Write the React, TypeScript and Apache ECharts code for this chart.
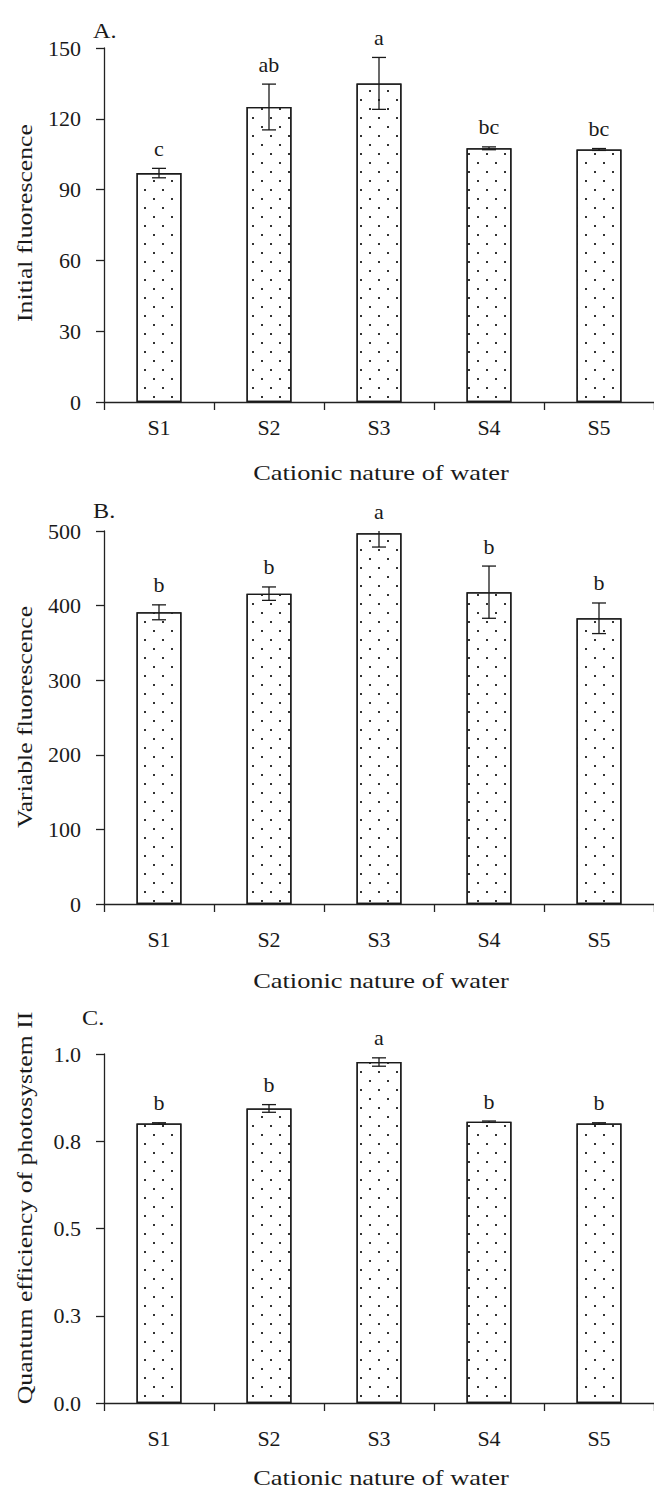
import React, { useEffect, useRef } from "react";
import * as echarts from "echarts";

// Treatments on the category axis
const categories = ["S1", "S2", "S3", "S4", "S5"];

// A. Initial fluorescence
const initialMeans = [97, 125, 135, 107.5, 107];
const initialErrors = [2, 9.7, 11, 0.6, 0.4];
const initialLetters = ["c", "ab", "a", "bc", "bc"];

// B. Variable fluorescence
const variableMeans = [391, 416, 497, 418, 383];
const variableErrors = [10, 9, 18.5, 35, 20.5];
const variableLetters = ["b", "b", "a", "b", "b"];

// C. Quantum efficiency of photosystem II
const quantumMeans = [0.801, 0.844, 0.977, 0.806, 0.801];
const quantumErrors = [0.002, 0.011, 0.012, 0.002, 0.002];
const quantumLetters = ["b", "b", "a", "b", "b"];

const xTitle = "Cationic nature of water";

const FONT = '"Liberation Serif", "Times New Roman", serif';
const INK = "#1a1a1a";
const LINE = { color: "#222", width: 1.3 };

// stippled fill for the bars
const DOTS = {
  symbol: "rect",
  symbolSize: 1,
  color: "#333",
  dashArrayX: [
    [2, 16],
    [0, 9, 2, 7],
  ],
  dashArrayY: [2, 7],
  rotation: 0,
};

type Panel = {
  tag: string;
  yTitle: string;
  means: number[];
  errors: number[];
  letters: string[];
  min: number;
  max: number;
  interval: number;
  decimals: number;
  top: number;
  height: number;
  labelMargin: number;
  yTitleY: number;
  xTitleY: number;
  tagX: number;
  tagY: number;
};

const panels: Panel[] = [
  {
    tag: "A.",
    yTitle: "Initial fluorescence",
    means: initialMeans,
    errors: initialErrors,
    letters: initialLetters,
    min: 0,
    max: 150,
    interval: 30,
    decimals: 0,
    top: 48,
    height: 354,
    labelMargin: 14,
    yTitleY: 223,
    xTitleY: 472,
    tagX: 93,
    tagY: 30,
  },
  {
    tag: "B.",
    yTitle: "Variable fluorescence",
    means: variableMeans,
    errors: variableErrors,
    letters: variableLetters,
    min: 0,
    max: 500,
    interval: 100,
    decimals: 0,
    top: 531,
    height: 373,
    labelMargin: 24,
    yTitleY: 717,
    xTitleY: 980,
    tagX: 93,
    tagY: 510,
  },
  {
    tag: "C.",
    yTitle: "Quantum efficiency of photosystem II",
    means: quantumMeans,
    errors: quantumErrors,
    letters: quantumLetters,
    min: 0,
    max: 1,
    interval: 0.25,
    decimals: 1,
    top: 1054,
    height: 349,
    labelMargin: 24,
    yTitleY: 1208,
    xTitleY: 1477,
    tagX: 82,
    tagY: 1017,
  },
];

const GRID_LEFT = 104;
const GRID_WIDTH = 556;

function errorSeries(p: Panel, idx: number) {
  return {
    type: "custom",
    xAxisIndex: idx,
    yAxisIndex: idx,
    z: 5,
    encode: { x: 0, y: 1 },
    data: p.means.map((m, i) => [i, m, p.errors[i]]),
    renderItem: (params: any, api: any) => {
      const i = api.value(0);
      const m = api.value(1);
      const e = api.value(2);
      const cs = params.coordSys;
      const hi = api.coord([i, m + e]);
      const lo = api.coord([i, m - e]);
      const x = hi[0];
      const yTop = Math.max(hi[1], cs.y);
      const half = 7;
      const style = { stroke: INK, lineWidth: 1.3, fill: null };
      const children: any[] = [
        { type: "line", shape: { x1: x, y1: yTop, x2: x, y2: lo[1] }, style },
        { type: "line", shape: { x1: x - half, y1: lo[1], x2: x + half, y2: lo[1] }, style },
      ];
      if (hi[1] >= cs.y) {
        children.push({
          type: "line",
          shape: { x1: x - half, y1: hi[1], x2: x + half, y2: hi[1] },
          style,
        });
      }
      children.push({
        type: "text",
        style: {
          text: p.letters[params.dataIndex],
          x,
          y: yTop - 9,
          align: "center",
          verticalAlign: "bottom",
          fontFamily: FONT,
          fontSize: 22,
          fill: INK,
        },
      });
      return { type: "group", children };
    },
  };
}

export default function App() {
  const ref = useRef<HTMLDivElement>(null);

  useEffect(() => {
    if (!ref.current) return;
    const chart = echarts.init(ref.current, null, { renderer: "svg" });

    const graphic: any[] = [];
    panels.forEach((p) => {
      graphic.push({
        type: "text",
        x: 25,
        y: p.yTitleY,
        rotation: Math.PI / 2,
        scaleX: 1.17,
        style: {
          text: p.yTitle,
          align: "center",
          verticalAlign: "middle",
          fontFamily: FONT,
          fontSize: 22,
          fill: INK,
        },
      });
      graphic.push({
        type: "text",
        x: GRID_LEFT + GRID_WIDTH / 2 - 1,
        y: p.xTitleY,
        scaleX: 1.2,
        style: {
          text: xTitle,
          align: "center",
          verticalAlign: "middle",
          fontFamily: FONT,
          fontSize: 22,
          fill: INK,
        },
      });
      graphic.push({
        type: "text",
        x: p.tagX,
        y: p.tagY,
        scaleX: 1.1,
        style: {
          text: p.tag,
          align: "left",
          verticalAlign: "middle",
          fontFamily: FONT,
          fontSize: 22,
          fill: INK,
        },
      });
    });

    chart.setOption({
      animation: false,
      backgroundColor: "#fff",
      grid: panels.map((p) => ({
        left: GRID_LEFT,
        top: p.top,
        width: GRID_WIDTH,
        height: p.height,
        containLabel: false,
      })),
      xAxis: panels.map((p, idx) => ({
        type: "category",
        gridIndex: idx,
        data: categories,
        boundaryGap: true,
        axisLine: { show: true, lineStyle: LINE },
        axisTick: { show: true, length: 8, interval: 0, lineStyle: LINE },
        axisLabel: {
          margin: p.labelMargin,
          fontSize: 22,
          fontFamily: FONT,
          color: INK,
          interval: 0,
        },
        splitLine: { show: false },
      })),
      yAxis: panels.map((p, idx) => ({
        type: "value",
        gridIndex: idx,
        min: p.min,
        max: p.max,
        interval: p.interval,
        axisLine: { show: true, lineStyle: LINE },
        axisTick: { show: true, length: 8, lineStyle: LINE },
        axisLabel: {
          margin: 23,
          fontSize: 22,
          fontFamily: FONT,
          color: INK,
          formatter: (v: number) => v.toFixed(p.decimals),
        },
        splitLine: { show: false },
      })),
      series: [
        ...panels.map((p, idx) => ({
          type: "bar",
          xAxisIndex: idx,
          yAxisIndex: idx,
          data: p.means,
          barWidth: 45,
          itemStyle: {
            color: "#fff",
            borderColor: INK,
            borderWidth: 1.3,
            decal: DOTS,
          },
        })),
        ...panels.map((p, idx) => errorSeries(p, idx)),
      ],
      graphic,
    });

    return () => chart.dispose();
  }, []);

  return (
    <div
      ref={ref}
      style={{ position: "absolute", left: 0, top: 0, width: 654, height: 1488, background: "#fff" }}
    />
  );
}
